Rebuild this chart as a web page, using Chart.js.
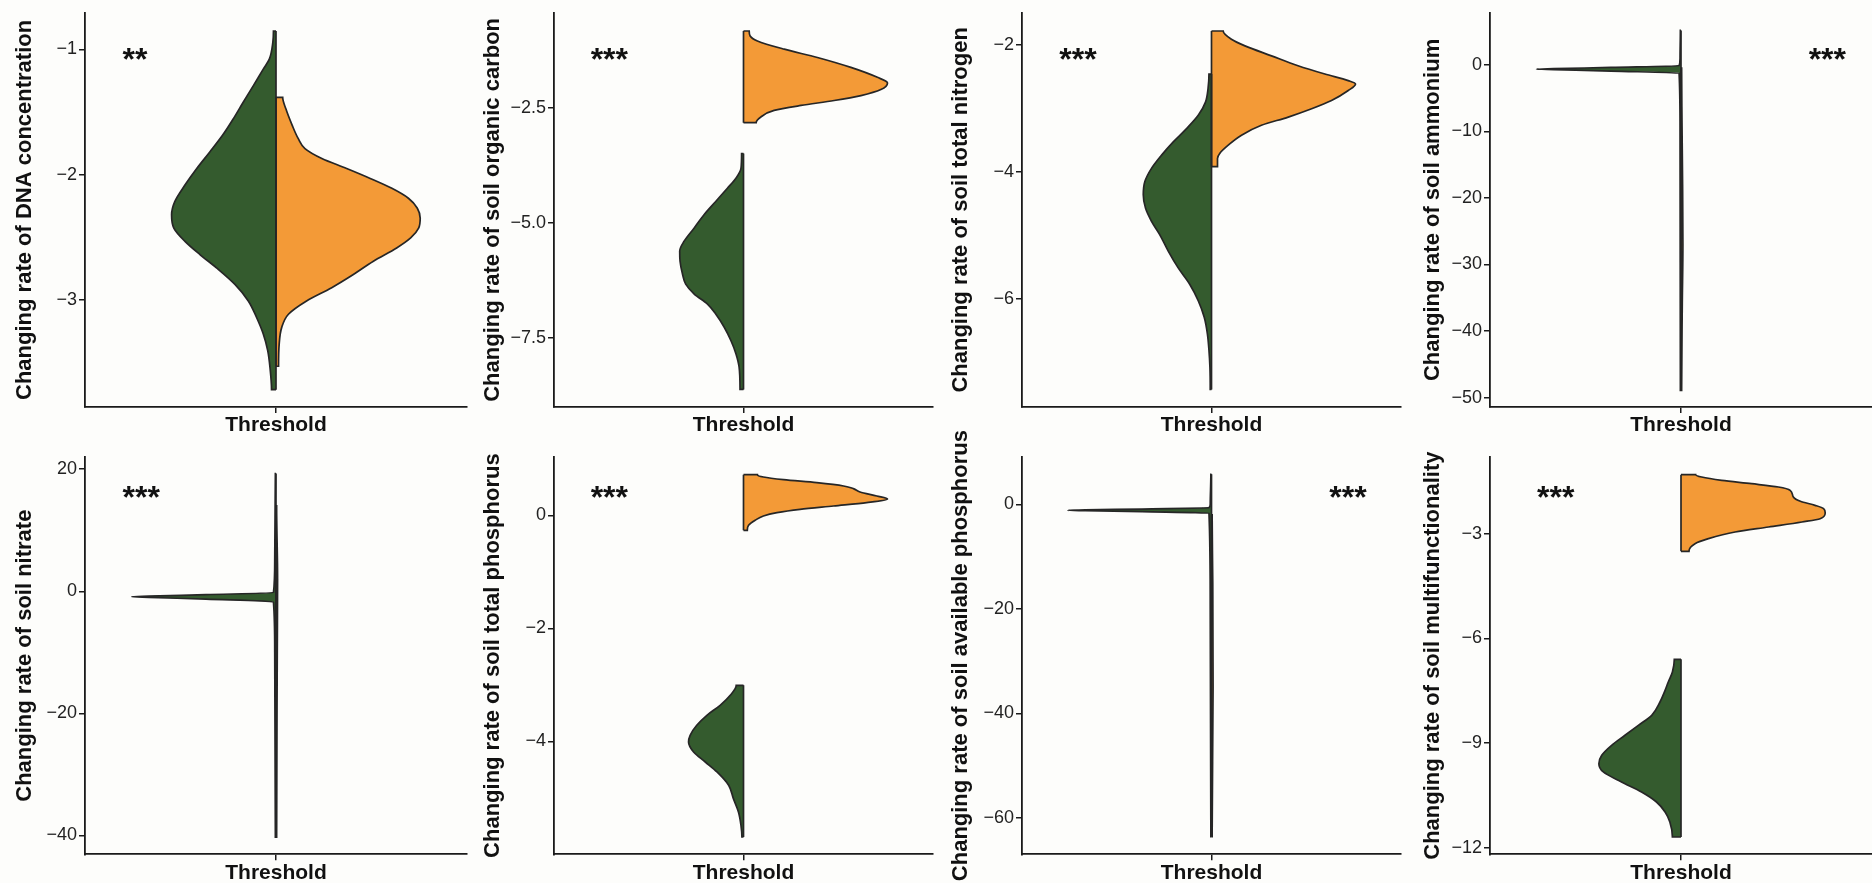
<!DOCTYPE html>
<html>
<head>
<meta charset="utf-8">
<script src="https://cdn.jsdelivr.net/npm/chart.js@4.4.1/dist/chart.umd.min.js"></script>
<style>
  html, body { margin: 0; padding: 0; background: #fdfdfb; }
  body { width: 1872px; height: 883px; position: relative; overflow: hidden; }
  canvas { position: absolute; }
</style>
</head>
<body>
<script>
// Split violins: each entry is [value, half-width], listed from the top of the violin to its bottom.
// Half-widths are in x-axis units (the category sits at 0, the axis runs from -0.6 to 0.6).

// Changing rate of DNA concentration
const dnaGreen = [
  [-0.855, 0.008], [-0.947, 0.010], [-1.079, 0.021], [-1.158, 0.040], [-1.290, 0.071],
  [-1.422, 0.103], [-1.554, 0.134], [-1.686, 0.168], [-1.819, 0.208], [-1.951, 0.249],
  [-2.083, 0.286], [-2.215, 0.318], [-2.320, 0.328], [-2.426, 0.321], [-2.532, 0.286],
  [-2.637, 0.239], [-2.743, 0.187], [-2.875, 0.129], [-3.007, 0.087], [-3.139, 0.061],
  [-3.271, 0.040], [-3.403, 0.026], [-3.535, 0.019], [-3.715, 0.014]
];
const dnaOrange = [
  [-1.383, 0.021], [-1.475, 0.031], [-1.607, 0.051], [-1.713, 0.070], [-1.792, 0.091],
  [-1.871, 0.144], [-1.951, 0.222], [-2.030, 0.296], [-2.109, 0.364], [-2.188, 0.416],
  [-2.268, 0.444], [-2.347, 0.453], [-2.426, 0.448], [-2.505, 0.423], [-2.585, 0.379],
  [-2.690, 0.306], [-2.796, 0.243], [-2.901, 0.175], [-3.007, 0.096], [-3.113, 0.039],
  [-3.218, 0.018], [-3.351, 0.010], [-3.528, 0.008]
];
const dnaTicks = [-3, -2, -1];
const dnaTickLabels = ['\u22123', '\u22122', '\u22121'];

// Changing rate of soil organic carbon
const socGreen = [
  [-3.486, 0.006], [-3.810, 0.008], [-4.025, 0.024], [-4.241, 0.051], [-4.529, 0.088],
  [-4.817, 0.125], [-5.105, 0.156], [-5.392, 0.188], [-5.608, 0.202], [-5.824, 0.201],
  [-6.112, 0.193], [-6.327, 0.183], [-6.543, 0.156], [-6.759, 0.114], [-6.975, 0.088],
  [-7.263, 0.061], [-7.551, 0.040], [-7.838, 0.024], [-8.126, 0.014], [-8.615, 0.011]
];
const socOrange = [
  [-0.824, 0.018], [-0.932, 0.021], [-1.039, 0.044], [-1.219, 0.129], [-1.399, 0.234],
  [-1.615, 0.340], [-1.831, 0.424], [-1.953, 0.456], [-2.097, 0.435], [-2.227, 0.372],
  [-2.335, 0.287], [-2.442, 0.182], [-2.550, 0.097], [-2.694, 0.055], [-2.817, 0.040]
];
const socTicks = [-7.5, -5, -2.5];
const socTickLabels = ['\u22127.5', '\u22125.0', '\u22122.5'];

// Changing rate of soil total nitrogen
const tnGreen = [
  [-2.454, 0.008], [-2.688, 0.011], [-2.897, 0.019], [-3.105, 0.042], [-3.314, 0.079],
  [-3.523, 0.121], [-3.731, 0.158], [-3.940, 0.190], [-4.148, 0.211], [-4.357, 0.216],
  [-4.566, 0.209], [-4.774, 0.190], [-4.983, 0.164], [-5.244, 0.137], [-5.504, 0.106],
  [-5.765, 0.069], [-6.026, 0.042], [-6.287, 0.023], [-6.547, 0.013], [-6.808, 0.008],
  [-7.069, 0.005], [-7.423, 0.004]
];
const tnOrange = [
  [-1.776, 0.037], [-1.906, 0.063], [-2.010, 0.106], [-2.167, 0.190], [-2.323, 0.274],
  [-2.454, 0.359], [-2.558, 0.433], [-2.610, 0.456], [-2.714, 0.433], [-2.871, 0.380],
  [-3.001, 0.317], [-3.132, 0.243], [-3.262, 0.158], [-3.418, 0.095], [-3.575, 0.053],
  [-3.705, 0.026], [-3.783, 0.019], [-3.914, 0.019]
];
const tnTicks = [-6, -4, -2];
const tnTickLabels = ['\u22126', '\u22124', '\u22122'];

// Changing rate of soil ammonium
const nh4Green = [
  [5.17, 0.002], [1.0, 0.003], [-0.15, 0.006], [-0.40, 0.220], [-0.58, 0.400],
  [-0.65, 0.454], [-0.72, 0.400], [-0.95, 0.220], [-1.25, 0.006], [-10.0, 0.003],
  [-48.9, 0.002]
];
const nh4Orange = [
  [-0.5, 0.002], [-8.0, 0.003], [-18.0, 0.005], [-27.0, 0.006], [-36.0, 0.004],
  [-48.9, 0.002]
];
const nh4Ticks = [-50, -40, -30, -20, -10, 0];
const nh4TickLabels = ['\u221250', '\u221240', '\u221230', '\u221220', '\u221210', '0'];

// Changing rate of soil nitrate
const no3Green = [
  [19.3, 0.002], [5.0, 0.004], [-0.23, 0.008], [-0.55, 0.220], [-0.80, 0.400],
  [-0.89, 0.453], [-1.00, 0.400], [-1.30, 0.220], [-1.75, 0.008], [-10.0, 0.004],
  [-40.3, 0.002]
];
const no3Orange = [
  [14.0, 0.002], [2.0, 0.005], [-10.0, 0.004], [-40.3, 0.002]
];
const no3Ticks = [-40, -20, 0, 20];
const no3TickLabels = ['\u221240', '\u221220', '0', '20'];

// Changing rate of soil total phosphorus
const tpGreen = [
  [-3.009, 0.023], [-3.186, 0.042], [-3.363, 0.074], [-3.540, 0.116], [-3.717, 0.148],
  [-3.894, 0.169], [-4.012, 0.174], [-4.189, 0.158], [-4.366, 0.121], [-4.543, 0.084],
  [-4.779, 0.047], [-5.015, 0.032], [-5.251, 0.016], [-5.487, 0.008], [-5.693, 0.005]
];
const tpOrange = [
  [0.720, 0.044], [0.678, 0.063], [0.631, 0.127], [0.578, 0.232], [0.519, 0.317],
  [0.472, 0.348], [0.413, 0.369], [0.342, 0.422], [0.289, 0.456], [0.224, 0.390],
  [0.165, 0.285], [0.106, 0.179], [0.047, 0.106], [-0.012, 0.063], [-0.088, 0.037],
  [-0.177, 0.016], [-0.265, 0.012]
];
const tpTicks = [-4, -2, 0];
const tpTickLabels = ['\u22124', '\u22122', '0'];

// Changing rate of soil available phosphorus
const apGreen = [
  [5.74, 0.002], [0.0, 0.004], [-0.65, 0.008], [-0.90, 0.220], [-1.08, 0.400],
  [-1.15, 0.455], [-1.22, 0.400], [-1.40, 0.220], [-1.67, 0.008], [-20.0, 0.004],
  [-63.6, 0.002]
];
const apOrange = [
  [-2.0, 0.002], [-15.0, 0.004], [-35.0, 0.005], [-63.6, 0.002]
];
const apTicks = [-60, -40, -20, 0];
const apTickLabels = ['\u221260', '\u221240', '\u221220', '0'];

// Changing rate of soil multifunctionality
const smfGreen = [
  [-6.598, 0.021], [-6.960, 0.027], [-7.247, 0.040], [-7.485, 0.050], [-7.819, 0.066],
  [-8.201, 0.092], [-8.487, 0.134], [-8.773, 0.176], [-9.059, 0.218], [-9.346, 0.249],
  [-9.584, 0.258], [-9.823, 0.244], [-10.109, 0.187], [-10.395, 0.124], [-10.682, 0.077],
  [-10.968, 0.050], [-11.254, 0.035], [-11.684, 0.027]
];
const smfOrange = [
  [-1.311, 0.046], [-1.378, 0.065], [-1.473, 0.128], [-1.569, 0.222], [-1.664, 0.306],
  [-1.760, 0.343], [-1.950, 0.353], [-2.074, 0.375], [-2.189, 0.421], [-2.284, 0.448],
  [-2.399, 0.453], [-2.571, 0.437], [-2.666, 0.380], [-2.809, 0.275], [-2.952, 0.170],
  [-3.143, 0.086], [-3.286, 0.044], [-3.506, 0.025]
];
const smfTicks = [-12, -9, -6, -3];
const smfTickLabels = ['\u221212', '\u22129', '\u22126', '\u22123'];

const xCategory = 'Threshold';

const panels = [
  { title: 'Changing rate of DNA concentration', green: dnaGreen, orange: dnaOrange,
    ticks: dnaTicks, labels: dnaTickLabels, range: [-3.853, -0.709], mark: '**', markX: -0.482 },
  { title: 'Changing rate of soil organic carbon', green: socGreen, orange: socOrange,
    ticks: socTicks, labels: socTickLabels, range: [-8.997, -0.428], mark: '***', markX: -0.484 },
  { title: 'Changing rate of soil total nitrogen', green: tnGreen, orange: tnOrange,
    ticks: tnTicks, labels: tnTickLabels, range: [-7.700, -1.489], mark: '***', markX: -0.482 },
  { title: 'Changing rate of soil ammonium', green: nh4Green, orange: nh4Orange,
    ticks: nh4Ticks, labels: nh4TickLabels, range: [-51.4, 7.81], mark: '***', markX: 0.401 },
  { title: 'Changing rate of soil nitrate', green: no3Green, orange: no3Orange,
    ticks: no3Ticks, labels: no3TickLabels, range: [-43.1, 22.0], mark: '***', markX: -0.482 },
  { title: 'Changing rate of soil total phosphorus', green: tpGreen, orange: tpOrange,
    ticks: tpTicks, labels: tpTickLabels, range: [-6.0, 1.032], mark: '***', markX: -0.484 },
  { title: 'Changing rate of soil available phosphorus', green: apGreen, orange: apOrange,
    ticks: apTicks, labels: apTickLabels, range: [-67.0, 9.06], mark: '***', markX: 0.373 },
  { title: 'Changing rate of soil multifunctionality', green: smfGreen, orange: smfOrange,
    ticks: smfTicks, labels: smfTickLabels, range: [-12.18, -0.805], mark: '***', markX: -0.452 }
];

// ---- styling and layout ----
const FONT = "'Liberation Sans', Arial, Helvetica, sans-serif";
const GREEN = '#345b2e';
const ORANGE = '#f39a37';
const OUTLINE = '#262626';
const AXIS = '#1a1a1a';

Chart.defaults.font.family = FONT;

const columns = [
  { left: 0,    width: 468, areaLeft: 85, padRight: 1, titlePad: 12 },
  { left: 468,  width: 468, areaLeft: 86, padRight: 3, titlePad: 12 },
  { left: 936,  width: 468, areaLeft: 86, padRight: 3, titlePad: 12 },
  { left: 1404, width: 468, areaLeft: 86, padRight: 0, titlePad: 16 }
];
const rows = [
  { top: 0,   height: 441, padTop: 10, axisHeight: 34,   markTop: 57 },
  { top: 420, height: 463, padTop: 37, axisHeight: 28.7, markTop: 51 }
];

// One half of a violin: down the outline from the top edge to the bottom edge.
// 'shape' fill closes the path back up the centre line.
function half(profile, side, colour) {
  const pts = [{ x: 0, y: profile[0][0] }];
  for (const [v, w] of profile) pts.push({ x: side * w, y: v });
  pts.push({ x: 0, y: profile[profile.length - 1][0] });
  return {
    data: pts, fill: 'shape', backgroundColor: colour,
    borderColor: OUTLINE, borderWidth: 1.7, pointRadius: 0,
    cubicInterpolationMode: 'monotone'
  };
}

// The straight edge of a half violin along the category centre.
function centreEdge(profile) {
  return {
    data: [{ x: 0, y: profile[0][0] }, { x: 0, y: profile[profile.length - 1][0] }],
    fill: false, borderColor: OUTLINE, borderWidth: 1.7, pointRadius: 0
  };
}

// Significance asterisks in the panel corner.
const markPlugin = {
  id: 'signif',
  afterDatasetsDraw(chart, args, opts) {
    const { ctx, chartArea, scales } = chart;
    ctx.save();
    ctx.font = 'bold 32px ' + FONT;
    ctx.fillStyle = '#111';
    ctx.textAlign = 'left';
    ctx.textBaseline = 'alphabetic';
    ctx.fillText(opts.text, scales.x.getPixelForValue(opts.x), chartArea.top + opts.dy);
    ctx.restore();
  }
};

panels.forEach((p, i) => {
  const col = columns[i % 4];
  const row = rows[Math.floor(i / 4)];
  const canvas = document.createElement('canvas');
  canvas.width = col.width;
  canvas.height = row.height;
  canvas.style.left = col.left + 'px';
  canvas.style.top = row.top + 'px';
  canvas.style.width = col.width + 'px';
  canvas.style.height = row.height + 'px';
  document.body.appendChild(canvas);

  const gridStyle = { drawOnChartArea: false, drawTicks: true, tickLength: 6, color: AXIS, lineWidth: 1.5 };
  const borderStyle = { display: true, color: AXIS, width: 1.8 };

  new Chart(canvas, {
    type: 'line',
    data: {
      datasets: [
        centreEdge(p.green), centreEdge(p.orange),
        half(p.green, -1, GREEN), half(p.orange, 1, ORANGE)
      ]
    },
    options: {
      responsive: false,
      animation: false,
      events: [],
      indexAxis: 'y',
      layout: { padding: { top: row.padTop, right: col.padRight, bottom: 0, left: 0 } },
      plugins: {
        legend: { display: false },
        tooltip: { enabled: false },
        signif: { text: p.mark, x: p.markX, dy: row.markTop }
      },
      scales: {
        x: {
          type: 'linear', min: -0.6, max: 0.6,
          afterFit: (s) => { s.height = row.axisHeight; },
          afterBuildTicks: (s) => { s.ticks = [{ value: 0 }]; },
          ticks: {
            callback: () => xCategory, autoSkip: false, maxRotation: 0,
            font: { size: 21, weight: 'bold' }, color: '#111', padding: 0
          },
          grid: gridStyle, border: borderStyle
        },
        y: {
          type: 'linear', min: p.range[0], max: p.range[1],
          afterFit: (s) => { s.width = col.areaLeft; },
          afterBuildTicks: (s) => { s.ticks = p.ticks.map((v) => ({ value: v })); },
          ticks: {
            callback: (v, k) => p.labels[k], autoSkip: false,
            font: { size: 18 }, color: '#222', padding: 2
          },
          grid: gridStyle, border: borderStyle,
          title: {
            display: true, text: p.title, color: '#111',
            font: { size: 22, weight: 'bold' },
            padding: { top: col.titlePad, bottom: 0 }
          }
        }
      }
    },
    plugins: [markPlugin]
  });
});
</script>
</body>
</html>
